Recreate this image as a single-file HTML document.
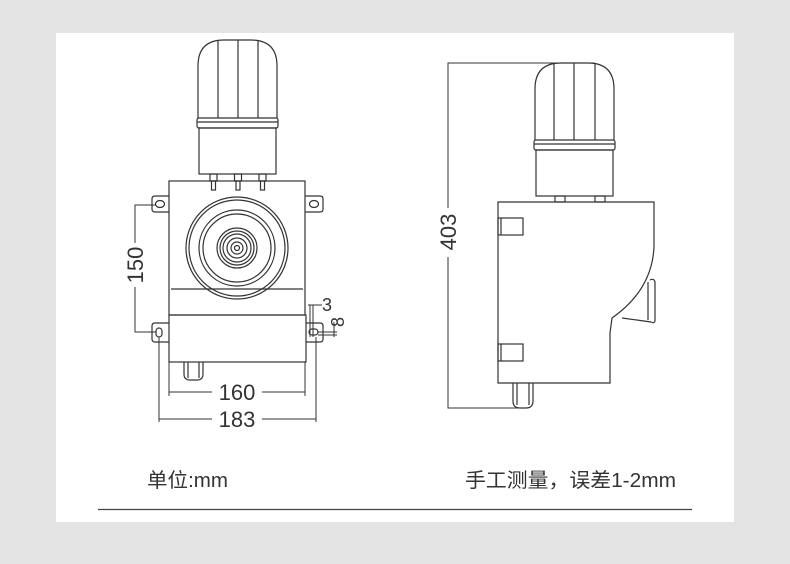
<!DOCTYPE html>
<html><head><meta charset="utf-8"><style>
html,body{margin:0;padding:0;background:#e4e4e4;}
svg{display:block}
</style></head><body>
<svg width="790" height="564" viewBox="0 0 790 564" xmlns="http://www.w3.org/2000/svg">
<rect x="0" y="0" width="790" height="564" fill="#e4e4e4"/>
<rect x="56" y="33" width="678" height="489" fill="#fff"/>
<g fill="none" stroke="#333" stroke-width="1.2">
<path d="M198 118 V66 Q198 40 224 40 H251 Q277 40 277 66 V118"/>
<line x1="218" y1="41" x2="218" y2="118"/><line x1="238" y1="40" x2="238" y2="118"/><line x1="258" y1="41" x2="258" y2="118"/>
<rect x="197" y="118" width="81" height="10" rx="2"/>
<line x1="197" y1="122" x2="278" y2="122"/>
<rect x="199" y="128" width="77" height="46"/>
<g>
<rect x="210" y="174" width="7" height="7"/><rect x="211.5" y="181" width="4" height="9"/>
<rect x="234.5" y="174" width="7" height="7"/><rect x="236" y="181" width="4" height="9"/>
<rect x="259" y="174" width="7" height="7"/><rect x="260.5" y="181" width="4" height="9"/>
</g>
<rect x="169" y="181" width="136" height="134"/>
<line x1="171" y1="289" x2="303" y2="289"/>
<rect x="169" y="315" width="137" height="47"/>
<circle cx="237" cy="248" r="51"/><circle cx="237" cy="248" r="48"/>
<circle cx="237" cy="248" r="38"/><circle cx="237" cy="248" r="34"/>
<circle cx="237" cy="248" r="20"/><circle cx="237" cy="248" r="17"/>
<circle cx="237" cy="248" r="14"/><circle cx="237" cy="248" r="10"/>
<circle cx="237" cy="248" r="6"/><circle cx="237" cy="248" r="2.5"/>
<path d="M169 196 H155 Q152 196 152 199 V209 Q152 212 155 212 H169"/>
<ellipse cx="160" cy="204" rx="4.5" ry="3.5"/>
<path d="M305 196 H320 Q323 196 323 199 V209 Q323 212 320 212 H305"/>
<ellipse cx="314" cy="204" rx="4.5" ry="3.5"/>
<path d="M169 323 H155 Q152 323 152 326 V339 Q152 342 155 342 H169"/>
<rect x="156" y="328" width="6" height="9" rx="3"/>
<path d="M306 323 H320 Q323 323 323 326 V339 Q323 342 320 342 H306"/>
<rect x="309" y="329" width="9" height="6" rx="3"/>
<path d="M184 362 V374 Q184 380 190 380 H197 Q203 380 203 374 V362"/>
<line x1="188" y1="362" x2="188" y2="378"/><line x1="199" y1="362" x2="199" y2="378"/>
</g>
<g stroke="#333" stroke-width="1" fill="none">
<path d="M156 205 H135 V243 M135 287 V332 H156"/>
<path d="M169 362 V396 M305 362 V396 M169 392 H212 M262 392 H305"/>
<path d="M159 337 V422 M316 337 V422 M159 419 H212 M262 419 H316"/>
<path d="M310 305 V337 M313 305 V337 M308 305 H322 M318 332 H337 M318 335 H337 M334 322 V337"/>
<path d="M595 63 H448 V208 M448 257 V408 H520"/>
</g>
<g fill="none" stroke="#333" stroke-width="1.2">
<path d="M535 140 V89 Q535 63 561 63 H588 Q614 63 614 89 V140"/>
<line x1="554" y1="64" x2="554" y2="140"/><line x1="574" y1="63" x2="574" y2="140"/><line x1="595" y1="64" x2="595" y2="140"/>
<rect x="534" y="140" width="81" height="10" rx="2"/>
<line x1="534" y1="144" x2="615" y2="144"/>
<rect x="536" y="150" width="77" height="46"/>
<rect x="555" y="196" width="10" height="6"/><rect x="595" y="196" width="10" height="6"/>
<path d="M498 202 H654 V247 Q652 290 612 318 L610 333 V383 H498 Z"/>
<path d="M650 280 Q654 278 655 282 V320 Q655 324 651 322 L622 318"/>
<path d="M648 282 V320"/>
<rect x="498" y="218" width="25" height="17"/><line x1="501" y1="218" x2="501" y2="235"/>
<rect x="498" y="344" width="25" height="17"/><line x1="501" y1="344" x2="501" y2="361"/>
<path d="M513 383 V401 Q513 408 520 408 H526 Q533 408 533 401 V383"/>
<line x1="517" y1="383" x2="517" y2="405"/><line x1="529" y1="383" x2="529" y2="405"/>
</g>
<g font-family="Liberation Sans, sans-serif" fill="#333" font-size="22">
<text x="237" y="400" text-anchor="middle">160</text>
<text x="237" y="427" text-anchor="middle">183</text>
<text transform="translate(143,265) rotate(-90)" text-anchor="middle">150</text>
<text transform="translate(456,232) rotate(-90)" text-anchor="middle">403</text>
<text x="322" y="311" font-size="18">3</text>
<text transform="translate(344,322) rotate(-90)" text-anchor="middle" font-size="18">8</text>
</g>
<g font-family="Liberation Sans, 'Noto Sans CJK SC', sans-serif" fill="#333" font-size="20">
<text x="147" y="487" textLength="81" lengthAdjust="spacingAndGlyphs">单位:mm</text>
<text x="465" y="487" textLength="211" lengthAdjust="spacingAndGlyphs">手工测量，误差1-2mm</text>
</g>
<line x1="98" y1="509.5" x2="692" y2="509.5" stroke="#444" stroke-width="1.2"/>
</svg>
</body></html>
